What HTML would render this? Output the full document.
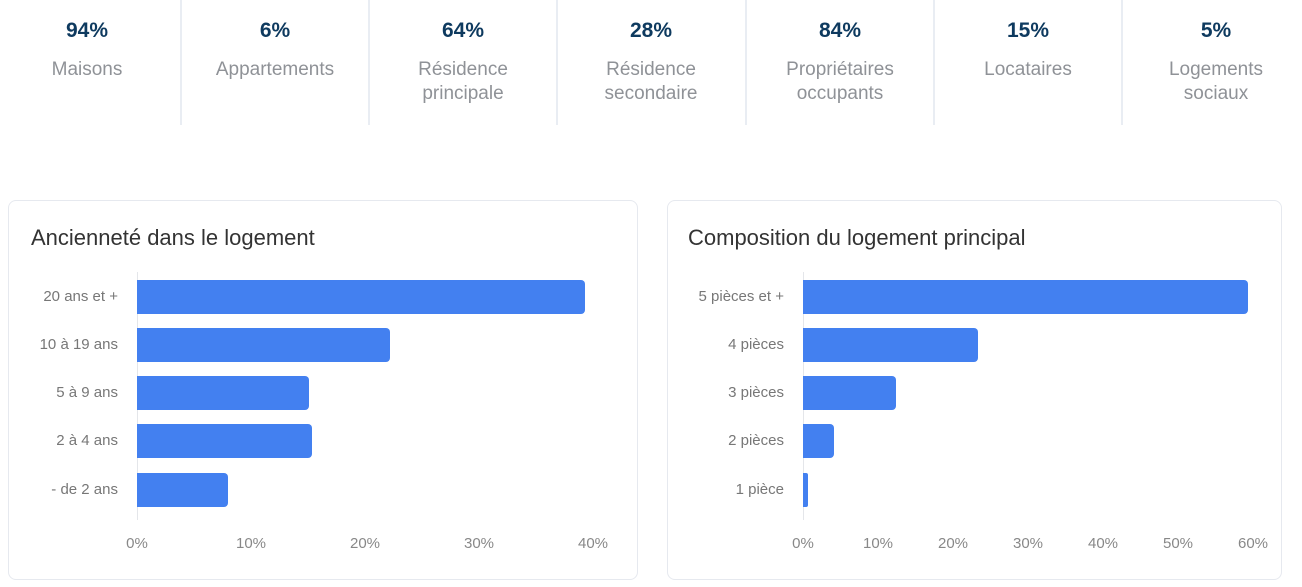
<!DOCTYPE html>
<html><head><meta charset="utf-8"><style>
body{margin:0;width:1302px;height:587px;background:#fff;position:relative;overflow:hidden;font-family:"Liberation Sans",sans-serif}
.col{position:absolute;top:0;width:188px;height:125px;text-align:center}
.div{position:absolute;top:0;width:2px;height:125px;background:#e9edf3}
.num{position:absolute;top:19px;left:0;right:0;font-size:21px;font-weight:bold;color:#0e3a5f}
.lab{position:absolute;top:58px;left:0;right:0;font-size:19px;line-height:24px;color:#8f9297}
.card{position:absolute;top:200px;height:380px;border:1.5px solid #e6e9ef;border-radius:8px;box-sizing:border-box}
.title{position:absolute;top:225px;font-size:22px;color:#333}
.ax{position:absolute;top:272px;height:248px;width:1px;background:#e4e6ea}
.bar{position:absolute;height:34px;background:#4380f0;border-radius:0 4px 4px 0}
.cl{position:absolute;font-size:15px;color:#777;text-align:right;width:110px;line-height:18px}
.tk{position:absolute;top:535px;font-size:15px;color:#888;width:60px;margin-left:-30px;text-align:center}
</style></head><body>
<div class="col" style="left:-7px"><div class="num">94%</div><div class="lab">Maisons</div></div>
<div class="col" style="left:181px"><div class="num">6%</div><div class="lab">Appartements</div></div>
<div class="col" style="left:369px"><div class="num">64%</div><div class="lab">Résidence<br>principale</div></div>
<div class="col" style="left:557px"><div class="num">28%</div><div class="lab">Résidence<br>secondaire</div></div>
<div class="col" style="left:746px"><div class="num">84%</div><div class="lab">Propriétaires<br>occupants</div></div>
<div class="col" style="left:934px"><div class="num">15%</div><div class="lab">Locataires</div></div>
<div class="col" style="left:1122px"><div class="num">5%</div><div class="lab">Logements<br>sociaux</div></div>
<div class="div" style="left:180px"></div><div class="div" style="left:368px"></div><div class="div" style="left:556px"></div><div class="div" style="left:745px"></div><div class="div" style="left:933px"></div><div class="div" style="left:1121px"></div>

<div class="card" style="left:8px;width:630px"></div>
<div class="title" style="left:31px">Ancienneté dans le logement</div>
<div class="ax" style="left:137px"></div>
<div class="bar" style="left:137px;top:280px;width:448px"></div>
<div class="bar" style="left:137px;top:328px;width:253px"></div>
<div class="bar" style="left:137px;top:376px;width:172px"></div>
<div class="bar" style="left:137px;top:424px;width:175px"></div>
<div class="bar" style="left:137px;top:473px;width:91px"></div>
<div class="cl" style="left:8px;top:288px">20 ans et +</div>
<div class="cl" style="left:8px;top:336px">10 à 19 ans</div>
<div class="cl" style="left:8px;top:384px">5 à 9 ans</div>
<div class="cl" style="left:8px;top:432px">2 à 4 ans</div>
<div class="cl" style="left:8px;top:481px">- de 2 ans</div>
<div class="tk" style="left:137px">0%</div><div class="tk" style="left:251px">10%</div><div class="tk" style="left:365px">20%</div><div class="tk" style="left:479px">30%</div><div class="tk" style="left:593px">40%</div>

<div class="card" style="left:667px;width:615px"></div>
<div class="title" style="left:688px">Composition du logement principal</div>
<div class="ax" style="left:803px"></div>
<div class="bar" style="left:803px;top:280px;width:445px"></div>
<div class="bar" style="left:803px;top:328px;width:175px"></div>
<div class="bar" style="left:803px;top:376px;width:93px"></div>
<div class="bar" style="left:803px;top:424px;width:31px"></div>
<div class="bar" style="left:803px;top:473px;width:5px;border-radius:0 2px 2px 0"></div>
<div class="cl" style="left:674px;top:288px">5 pièces et +</div>
<div class="cl" style="left:674px;top:336px">4 pièces</div>
<div class="cl" style="left:674px;top:384px">3 pièces</div>
<div class="cl" style="left:674px;top:432px">2 pièces</div>
<div class="cl" style="left:674px;top:481px">1 pièce</div>
<div class="tk" style="left:803px">0%</div><div class="tk" style="left:878px">10%</div><div class="tk" style="left:953px">20%</div><div class="tk" style="left:1028px">30%</div><div class="tk" style="left:1103px">40%</div><div class="tk" style="left:1178px">50%</div><div class="tk" style="left:1253px">60%</div>
</body></html>
